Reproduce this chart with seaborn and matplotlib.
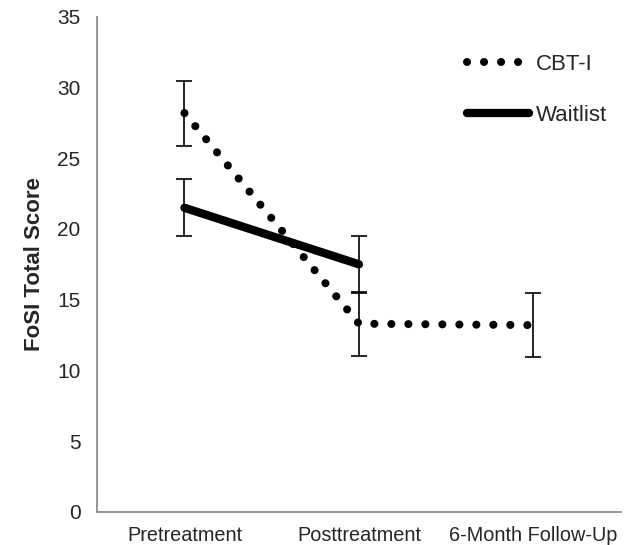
import pandas as pd
import seaborn as sns
import matplotlib.pyplot as plt

# datos
momentos = ["Pretreatment", "Posttreatment", "6-Month Follow-Up"]
cbt_media = [28.2, 13.3, 13.2]
cbt_se = [2.3, 2.25, 2.25]
wait_media = [21.5, 17.5]
wait_se = [2.0, 2.0]

df_cbt = pd.DataFrame({"momento": momentos, "score": cbt_media})
df_wait = pd.DataFrame({"momento": momentos[:2], "score": wait_media})

sns.set_style("white")
plt.rcParams["font.family"] = ["Liberation Sans", "DejaVu Sans"]

fig = plt.figure(figsize=(6.27, 5.45), dpi=100)
ax = fig.add_axes([0.155, 0.061, 0.835, 0.908])

# lineas
sns.lineplot(data=df_cbt, x="momento", y="score", ax=ax, color="black",
             linewidth=5.8, label="CBT-I", sort=False)
sns.lineplot(data=df_wait, x="momento", y="score", ax=ax, color="black",
             linewidth=6, label="Waitlist", sort=False)

linea_cbt, linea_wait = ax.lines[0], ax.lines[1]
linea_cbt.set_dashes((0.01, 2.1))
linea_cbt.set_dash_capstyle("round")
linea_wait.set_solid_capstyle("round")

# barras de error
ax.errorbar(momentos, cbt_media, yerr=cbt_se, fmt="none", ecolor="black",
            elinewidth=1.2, capsize=5.5, capthick=1.2)
ax.errorbar(momentos[:2], wait_media, yerr=wait_se, fmt="none", ecolor="black",
            elinewidth=1.2, capsize=5.5, capthick=1.2)

ax.set_ylim(0, 35)
ax.set_xlim(-0.5, 2.5)
ax.set_yticks(range(0, 36, 5))

ax.set_xlabel("")
ax.set_ylabel("FoSI Total Score", fontsize=16, fontweight="bold", labelpad=9)
ax.tick_params(axis="both", length=0)
ax.tick_params(axis="y", pad=12, labelsize=15)
ax.tick_params(axis="x", pad=10, labelsize=14.3)

for lado in ["top", "right"]:
    ax.spines[lado].set_visible(False)
for lado in ["left", "bottom"]:
    ax.spines[lado].set_color("#8c8c8c")
    ax.spines[lado].set_linewidth(1.3)

leg = ax.legend(loc="upper left", bbox_to_anchor=(0.706, 0.925), frameon=False,
                fontsize=16, handlelength=2.8, handletextpad=0.3,
                labelspacing=1.35, borderpad=0, borderaxespad=0)

plt.savefig("out.png", dpi=100)
plt.close()
